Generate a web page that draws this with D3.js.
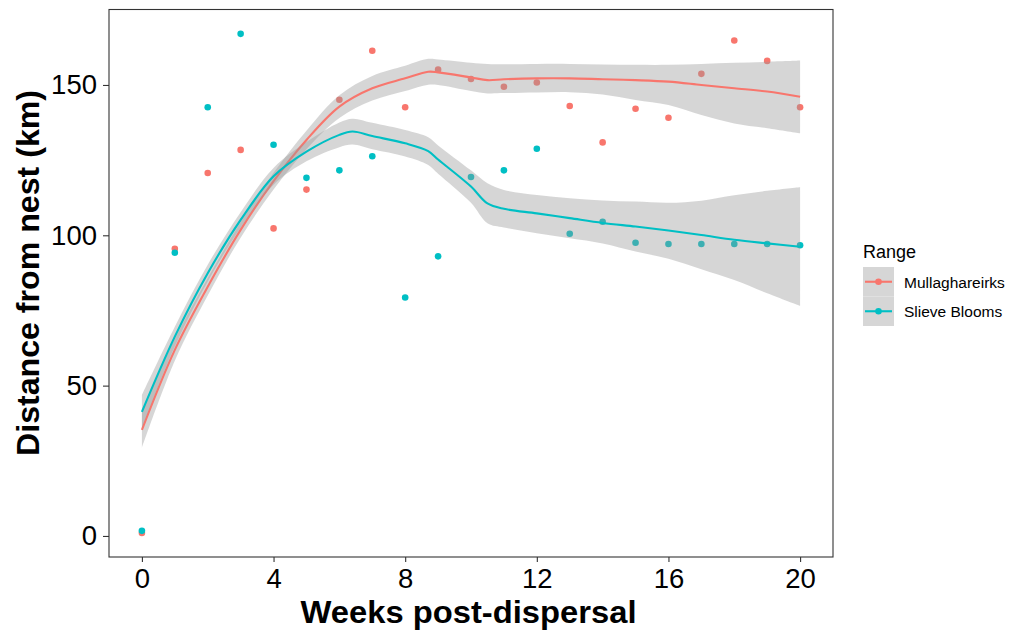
<!DOCTYPE html>
<html>
<head>
<meta charset="utf-8">
<script src="https://cdn.jsdelivr.net/npm/d3@7"></script>
<style>
  body { margin: 0; background: #fff; }
  svg { display: block; font-family: "Liberation Sans", Arial, sans-serif; }
</style>
</head>
<body>
<svg id="chart" width="1019" height="630"></svg>
<script>
// Weekly distance from nest (km) for the two ranges
const weeks = d3.range(0, 21);
const mullaghareirks = [1.0, 95.5, 120.7, 128.4, 102.3, 115.2, 145.1, 161.4, 142.6, 155.1, 152.0,
                        149.4, 150.8, 143.0, 130.9, 142.1, 139.1, 153.7, 164.8, 158.0, 142.6];
const slieveBlooms   = [1.7, 94.2, 142.6, 167.0, 130.1, 119.1, 121.6, 126.3, 79.3, 93.0, 119.4,
                        121.6, 128.8, 100.5, 104.5, 97.5, 97.1, 97.1, 97.1, 97.1, 96.7];

// Loess fits with 95% confidence band
const mullFitWeeks = [0, 1, 2, 3, 4, 5, 6, 7, 8, 8.7, 9, 10, 10.5, 11, 12, 13, 14, 15, 16, 17, 18, 19, 20];
const mullFit   = [35.3, 61.9, 82.9, 101.8, 118.0, 131.7, 142.8, 148.9, 152.2, 154.4, 154.2, 152.5, 151.6,
                   151.9, 152.2, 152.2, 151.9, 151.6, 151.1, 150.0, 148.9, 147.8, 146.1];
const mullLower = [29.3, 58.3, 80.0, 99.2, 115.2, 128.6, 139.0, 144.8, 148.0, 150.1, 150.0, 148.0, 147.2,
                   147.3, 147.5, 147.6, 146.8, 145.0, 143.3, 140.0, 137.2, 135.6, 133.9];
const mullUpper = [41.3, 65.5, 85.8, 104.4, 120.8, 134.8, 146.6, 153.0, 156.4, 158.7, 158.5, 157.4, 157.0,
                   156.9, 157.0, 157.0, 156.8, 156.7, 156.7, 157.0, 157.4, 157.7, 158.1];

const slieveFitWeeks = [0, 1, 2, 3, 4, 5, 6, 6.4, 7, 8, 8.7, 9, 10, 10.5, 11, 12, 13, 14, 15, 16, 17, 18, 19, 20];
const slieveFit   = [41.3, 66.3, 87.4, 105.1, 119.6, 127.8, 133.4, 134.5, 133.0, 130.6, 128.0, 125.2, 116.2,
                     110.6, 108.8, 107.3, 105.7, 104.1, 102.9, 101.6, 100.1, 98.5, 97.3, 96.2];
const slieveLower = [35.8, 63.0, 84.6, 102.5, 116.8, 124.6, 129.3, 130.2, 128.6, 126.2, 123.4, 120.5, 110.8,
                     104.0, 102.6, 100.7, 99.0, 97.3, 94.6, 92.2, 88.7, 85.1, 80.7, 76.5];
const slieveUpper = [46.9, 69.6, 90.2, 107.7, 122.4, 131.0, 137.5, 138.8, 137.4, 135.0, 132.6, 129.9, 121.6,
                     117.3, 115.1, 113.4, 112.3, 111.6, 111.2, 110.8, 111.5, 113.3, 114.8, 116.0];

const rangeNames = ["Mullaghareirks", "Slieve Blooms"];
const rangeColors = ["#F8766D", "#00BFC4"];
const xTicks = [0, 4, 8, 12, 16, 20];
const yTicks = [0, 50, 100, 150];

const svg = d3.select("#chart");
const panel = { left: 109, right: 833, top: 9.5, bottom: 557 };

const x = d3.scaleLinear().domain([-1, 21]).range([panel.left, panel.right]);
const y = d3.scaleLinear().domain([-7.0, 175.1]).range([panel.bottom, panel.top]);

const series = [
  { name: rangeNames[0], color: rangeColors[0], values: mullaghareirks,
    fx: mullFitWeeks, fit: mullFit, lo: mullLower, hi: mullUpper },
  { name: rangeNames[1], color: rangeColors[1], values: slieveBlooms,
    fx: slieveFitWeeks, fit: slieveFit, lo: slieveLower, hi: slieveUpper }
];

// Points
series.forEach(s => {
  svg.append("g").selectAll("circle")
    .data(weeks.map((w, i) => ({ w, v: s.values[i] })))
    .join("circle")
    .attr("cx", d => x(d.w))
    .attr("cy", d => y(d.v))
    .attr("r", 3.3)
    .attr("fill", s.color);
});

// Smooth ribbons and lines, drawn group by group
const curve = d3.curveCatmullRom.alpha(0.5);
series.forEach(s => {
  const pts = s.fx.map((w, i) => ({ w, f: s.fit[i], lo: s.lo[i], hi: s.hi[i] }));
  svg.append("path")
    .datum(pts)
    .attr("fill", "#999999")
    .attr("fill-opacity", 0.4)
    .attr("d", d3.area().curve(curve).x(d => x(d.w)).y0(d => y(d.lo)).y1(d => y(d.hi)));
  svg.append("path")
    .datum(pts)
    .attr("fill", "none")
    .attr("stroke", s.color)
    .attr("stroke-width", 2.1)
    .attr("d", d3.line().curve(curve).x(d => x(d.w)).y(d => y(d.f)));
});

// Panel border
svg.append("rect")
  .attr("x", panel.left).attr("y", panel.top)
  .attr("width", panel.right - panel.left)
  .attr("height", panel.bottom - panel.top)
  .attr("fill", "none")
  .attr("stroke", "#333")
  .attr("stroke-width", 1.1);

// Axes
const xAxis = svg.append("g")
  .attr("transform", `translate(0,${panel.bottom})`)
  .call(d3.axisBottom(x).tickValues(xTicks).tickSize(5).tickPadding(6).tickFormat(d3.format("d")));
const yAxis = svg.append("g")
  .attr("transform", `translate(${panel.left},0)`)
  .call(d3.axisLeft(y).tickValues(yTicks).tickSize(6).tickPadding(6).tickFormat(d3.format("d")));

[xAxis, yAxis].forEach(g => {
  g.select(".domain").remove();
  g.selectAll(".tick line").attr("stroke", "#333").attr("stroke-width", 1.1);
  g.selectAll(".tick text")
    .attr("fill", "#000")
    .style("font-size", "27.5px")
    .style("font-family", '"Liberation Sans", Arial, sans-serif');
});

// Axis titles
svg.append("text")
  .attr("x", 468.5)
  .attr("y", 623)
  .attr("text-anchor", "middle")
  .attr("textLength", 336)
  .attr("lengthAdjust", "spacingAndGlyphs")
  .style("font-size", "31px")
  .style("font-weight", "bold")
  .text("Weeks post-dispersal");

svg.append("text")
  .attr("transform", "translate(39,273) rotate(-90)")
  .attr("text-anchor", "middle")
  .attr("textLength", 366)
  .attr("lengthAdjust", "spacingAndGlyphs")
  .style("font-size", "31px")
  .style("font-weight", "bold")
  .text("Distance from nest (km)");

// Legend
const legend = svg.append("g").attr("transform", "translate(863,0)");
legend.append("text")
  .attr("x", 0).attr("y", 258)
  .style("font-size", "18px")
  .text("Range");

series.forEach((s, i) => {
  const top = 267 + i * 29.5;
  const cy = top + 14.75;
  legend.append("rect")
    .attr("x", 0).attr("y", top)
    .attr("width", 31).attr("height", 29.5)
    .attr("fill", "#D6D6D6");
  legend.append("line")
    .attr("x1", 2).attr("x2", 29)
    .attr("y1", cy).attr("y2", cy)
    .attr("stroke", s.color)
    .attr("stroke-width", 2.1);
  legend.append("circle")
    .attr("cx", 15.5).attr("cy", cy).attr("r", 3.3)
    .attr("fill", s.color);
  legend.append("text")
    .attr("x", 41).attr("y", cy + 6)
    .style("font-size", "15.5px")
    .text(s.name);
});
</script>
</body>
</html>
